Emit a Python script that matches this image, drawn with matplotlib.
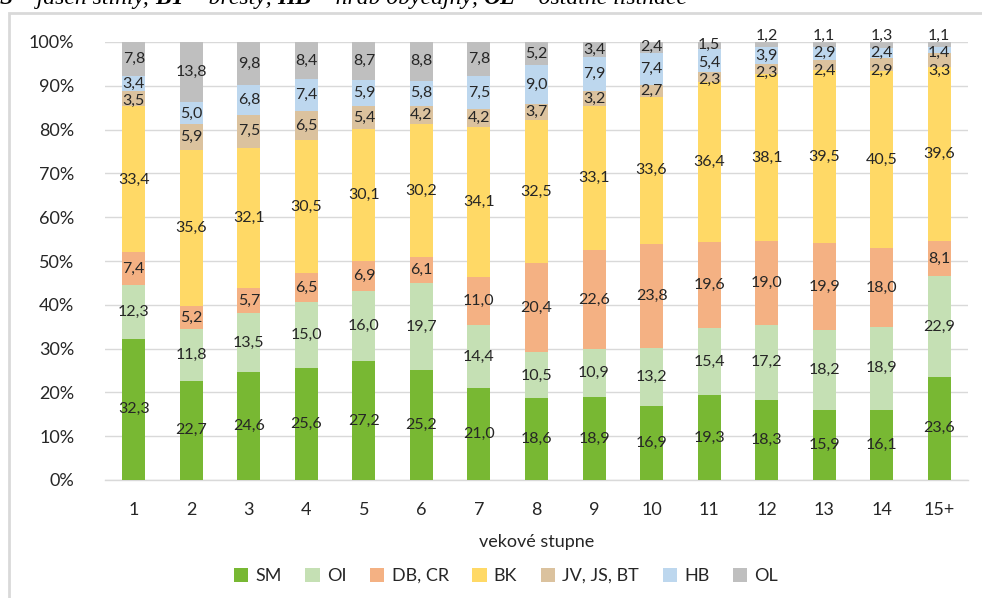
import numpy as np
import matplotlib
matplotlib.use("Agg")
import matplotlib.pyplot as plt
from matplotlib.patches import Rectangle

categories = ["1", "2", "3", "4", "5", "6", "7", "8", "9", "10", "11", "12", "13", "14", "15+"]
series_names = ["SM", "OI", "DB, CR", "BK", "JV, JS, BT", "HB", "OL"]
SM = [32.3, 22.7, 24.6, 25.6, 27.2, 25.2, 21.0, 18.6, 18.9, 16.9, 19.3, 18.3, 15.9, 16.1, 23.6]
OI = [12.3, 11.8, 13.5, 15.0, 16.0, 19.7, 14.4, 10.5, 10.9, 13.2, 15.4, 17.2, 18.2, 18.9, 22.9]
DB_CR = [7.4, 5.2, 5.7, 6.5, 6.9, 6.1, 11.0, 20.4, 22.6, 23.8, 19.6, 19.0, 19.9, 18.0, 8.1]
BK = [33.4, 35.6, 32.1, 30.5, 30.1, 30.2, 34.1, 32.5, 33.1, 33.6, 36.4, 38.1, 39.5, 40.5, 39.6]
JV_JS_BT = [3.5, 5.9, 7.5, 6.5, 5.4, 4.2, 4.2, 3.7, 3.2, 2.7, 2.3, 2.3, 2.4, 2.9, 3.3]
HB = [3.4, 5.0, 6.8, 7.4, 5.9, 5.8, 7.5, 9.0, 7.9, 7.4, 5.4, 3.9, 2.9, 2.4, 1.4]
OL = [7.8, 13.8, 9.8, 8.4, 8.7, 8.8, 7.8, 5.2, 3.4, 2.4, 1.5, 1.2, 1.1, 1.3, 1.1]
colors = ["#78B833", "#C5E0B4", "#F4B183", "#FFD966", "#DBC29E", "#BDD7EE", "#BFBFBF"]
y_ticks = [0, 10, 20, 30, 40, 50, 60, 70, 80, 90, 100]
x_label = "vekové stupne"

caption_parts = [("S", True), (" – jaseň štíhly, ", False), ("BT", True), (" – brestý, ", False),
                 ("HB", True), (" – hrab obyčajný, ", False), ("OL", True), (" – ostatné listnáče", False)]

data = np.array([SM, OI, DB_CR, BK, JV_JS_BT, HB, OL])
pct = data / data.sum(axis=0) * 100

FONT = "Lato"
fig = plt.figure(figsize=(9.82, 5.98), dpi=100)
W, H = 982, 598
ax = fig.add_axes([105 / W, 1 - 480 / H, (968 - 105) / W, (480 - 42) / H])

x = np.arange(len(categories))
bottom = np.zeros(len(categories))
bars = []
for i, name in enumerate(series_names):
    b = ax.bar(x, pct[i], 0.4, bottom=bottom, color=colors[i], label=name, zorder=3, linewidth=0)
    bars.append(b)
    bottom += pct[i]

# data labels, centered, pushed apart top-down when crowded
min_gap = 4.0
for j in range(len(categories)):
    cum = np.cumsum(pct[:, j])
    starts = cum - pct[:, j]
    prev = None
    for i in range(len(series_names) - 1, -1, -1):
        c = (starts[i] + cum[i]) / 2
        if i == len(series_names) - 1 and pct[i, j] < 1.4:
            c = 101.4
        if prev is not None and prev - c < min_gap:
            c = prev - min_gap
        prev = c
        ax.text(x[j], c, f"{data[i, j]:.1f}".replace(".", ","), ha="center", va="center",
                fontsize=11.5, family=FONT, color="#262626", zorder=4, clip_on=False)

ax.set_xlim(-0.5, len(categories) - 0.5)
ax.set_ylim(0, 100)
ax.set_yticks(y_ticks)
ax.set_yticklabels([f"{t}%" for t in y_ticks], family=FONT, fontsize=13, color="#262626")
ax.set_xticks(x)
ax.set_xticklabels(categories, family=FONT, fontsize=13, color="#262626")
ax.tick_params(axis="both", length=0)
ax.tick_params(axis="y", pad=22)
ax.tick_params(axis="x", pad=16)
ax.grid(axis="y", color="#D9D9D9", linewidth=1, zorder=0)
for s in ["top", "right", "left"]:
    ax.spines[s].set_visible(False)
ax.spines["bottom"].set_color("#D9D9D9")
ax.spines["bottom"].set_linewidth(1)
ax.set_xlabel(x_label, family=FONT, fontsize=13, color="#262626", labelpad=11)

leg = fig.legend(handles=bars, labels=series_names, loc="center", bbox_to_anchor=(506 / W, 1 - 576 / H),
                 ncol=7, frameon=False, prop={"family": FONT, "size": 13}, handlelength=0.8,
                 handleheight=0.8, handletextpad=0.4, columnspacing=1.3)
for t in leg.get_texts():
    t.set_color("#262626")

# frame border (light gray, left and top edges)
fig.patches.append(Rectangle((9 / W, -0.1), 1.2, (1 - 13 / H) + 0.1, transform=fig.transFigure,
                             fill=False, edgecolor="#D9D9D9", linewidth=2))

# caption, clipped at top
fig.canvas.draw()
renderer = fig.canvas.get_renderer()
xpos = 0.0
for txt, bold in caption_parts:
    t = fig.text(xpos / W, 1 - 4 / H, txt, family="Liberation Serif", style="italic",
                 weight="bold" if bold else "normal", fontsize=17, ha="left", va="baseline", color="black")
    bb = t.get_window_extent(renderer)
    xpos += bb.width

fig.savefig("out.png", dpi=100)
